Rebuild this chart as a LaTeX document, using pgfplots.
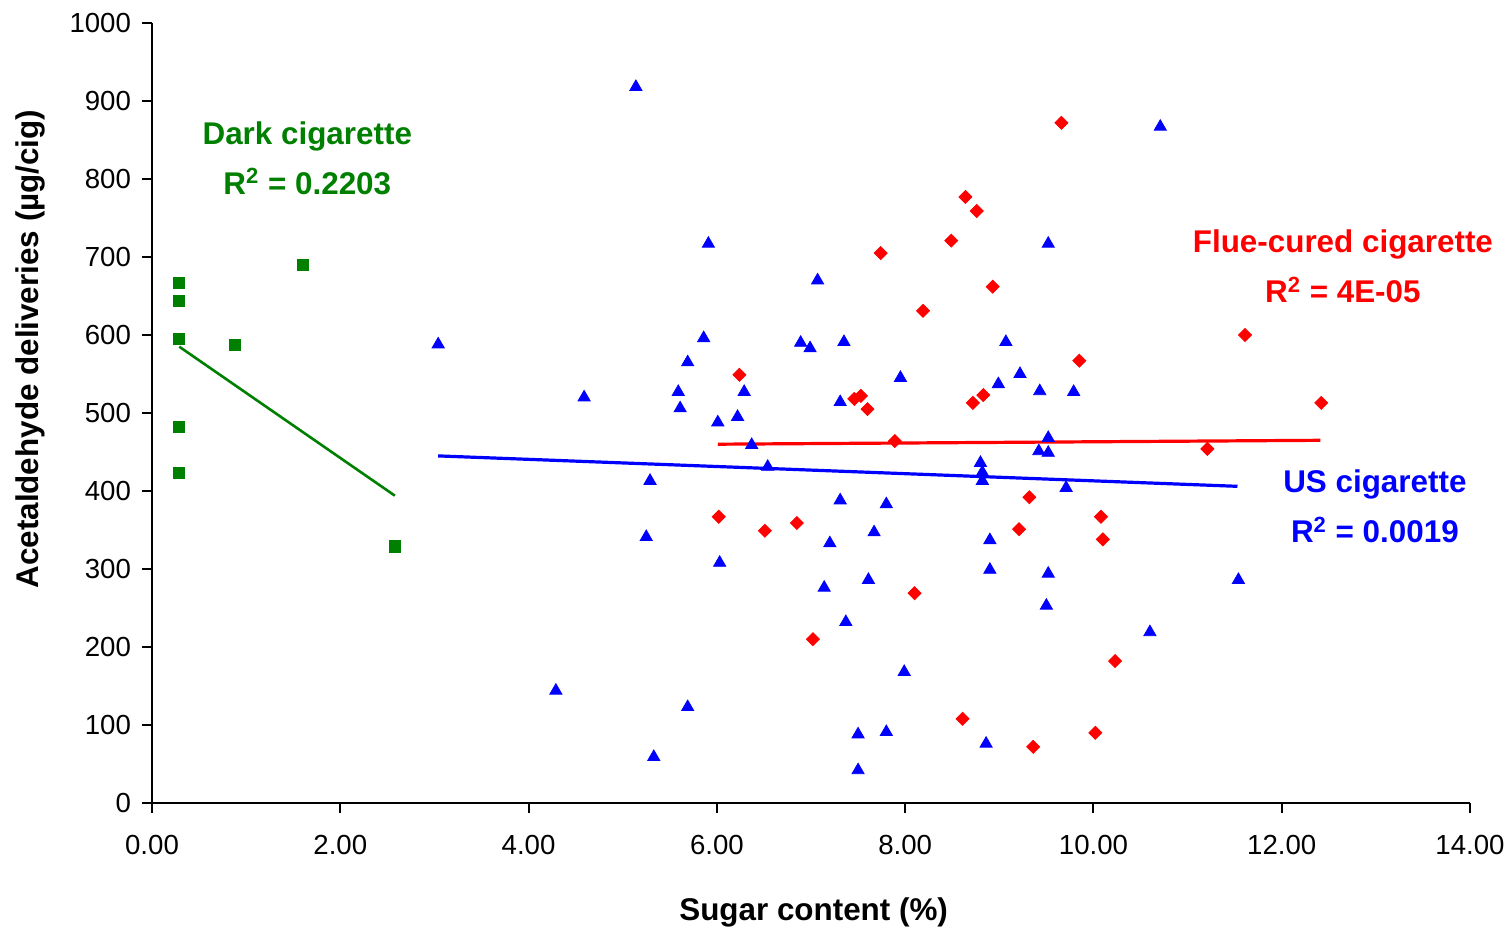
\documentclass[border=0pt]{standalone}
\usepackage{pgfplots}
\pgfplotsset{compat=1.18}
\usepackage{fontspec}
\setmainfont{Liberation Sans}
\definecolor{xlblue}{RGB}{0,0,255}
\definecolor{xlred}{RGB}{255,0,0}
\definecolor{xlgreen}{RGB}{0,128,0}
\begin{document}
\begin{tikzpicture}
\begin{axis}[
  scale only axis, width=659pt, height=390pt,
  xmin=0, xmax=14, ymin=0, ymax=1000,
  axis lines*=left, axis line style={line width=1pt, black},
  tick align=outside, major tick length=5pt,
  tick style={line width=1pt, black},
  xtick={0,2,...,14},
  xticklabels={0.00,2.00,4.00,6.00,8.00,10.00,12.00,14.00},
  ytick={0,100,...,1000},
  yticklabels={0,100,200,300,400,500,600,700,800,900,1000},
  ticklabel style={font=\fontsize{13.8}{16}\selectfont},
  xticklabel style={yshift=-7.5pt},
  yticklabel style={xshift=-2pt},
  xlabel={Sugar content (\%)},
  ylabel={Acetaldehyde deliveries (µg/cig)},
  label style={font=\bfseries\fontsize{15.7}{18}\selectfont},
  xlabel style={at={(rel axis cs:0.502,0)}, anchor=center, yshift=-54.5pt},
  ylabel style={at={(rel axis cs:0,0.582)}, anchor=center, rotate=0, yshift=61pt},
  clip=false,
]
% US cigarette
\addplot[only marks, mark=triangle*, mark size=3.5pt, color=xlblue] coordinates {
(5.14,918) (5.91,717) (3.04,588) (5.86,596) (5.69,565) (6.29,527) (5.59,527)
(5.61,506) (4.59,520) (6.01,488) (6.22,495) (6.89,590) (6.37,459) (6.54,431)
(5.29,413) (5.25,341) (6.03,308) (4.29,144) (5.69,123) (5.33,59) (7.07,670)
(9.52,717) (6.99,583) (7.35,591) (9.07,591) (7.95,545) (9.22,550) (8.99,537)
(9.43,528) (9.79,527) (7.31,514) (9.52,468) (9.42,451) (9.52,449) (8.80,436)
(8.82,424) (8.82,413) (9.71,404) (7.31,388) (7.80,383) (7.67,347) (7.20,333)
(8.90,337) (8.90,299) (9.52,294) (9.50,253) (7.14,276) (7.61,286) (7.37,232)
(7.99,168) (7.50,88) (7.80,91) (8.86,76) (7.50,42) (10.71,867) (11.54,286)
(10.60,219)
};
% Flue-cured cigarette
\addplot[only marks, mark=square*, mark size=2.3pt, mark options={rotate=45}, color=xlred] coordinates {
(6.24,549) (6.02,367) (6.51,349) (6.85,359) (9.66,872) (8.64,777) (8.76,759)
(8.49,721) (7.74,705) (8.93,662) (8.19,631) (9.85,567) (7.46,518) (7.53,522)
(7.60,505) (8.72,513) (8.83,523) (7.89,464) (9.32,392) (9.21,351) (10.08,367)
(10.10,338) (8.10,269) (7.02,210) (10.23,182) (8.61,108) (9.36,72) (10.02,90)
(11.61,600) (12.42,513) (11.21,454)
};
% Dark cigarette
\addplot[only marks, mark=square*, mark size=2.8pt, color=xlgreen] coordinates {
(0.29,667) (0.29,644) (0.29,595) (0.29,482) (0.29,423) (0.88,587) (1.60,690)
(2.58,329)
};
% trend lines
\addplot[xlblue, line width=1.6pt, no marks] coordinates {(3.04,445) (11.53,406)};
\addplot[xlred, line width=1.6pt, no marks] coordinates {(6.01,460) (12.41,465)};
\addplot[xlgreen, line width=1.3pt, no marks] coordinates {(0.29,585) (2.58,394)};

\node[text=xlgreen, font=\bfseries\fontsize{15.7}{25}\selectfont, align=center]
  at (axis cs:1.65,827) {Dark cigarette\\R\textsuperscript{2} = 0.2203};
\node[text=xlred, font=\bfseries\fontsize{15.7}{25}\selectfont, align=center]
  at (axis cs:12.65,688) {Flue-cured cigarette\\R\textsuperscript{2} = 4E-05};
\node[text=xlblue, font=\bfseries\fontsize{15.7}{25}\selectfont, align=center]
  at (axis cs:12.99,380) {US cigarette\\R\textsuperscript{2} = 0.0019};

\path (rel axis cs:0,0) coordinate (LL);
\path (rel axis cs:1,1) coordinate (UR);
\end{axis}
\pgfresetboundingbox
\path ([xshift=-76pt,yshift=-62.5pt]LL) rectangle ([xshift=19.5pt,yshift=11.5pt]UR);
\end{tikzpicture}
\end{document}
